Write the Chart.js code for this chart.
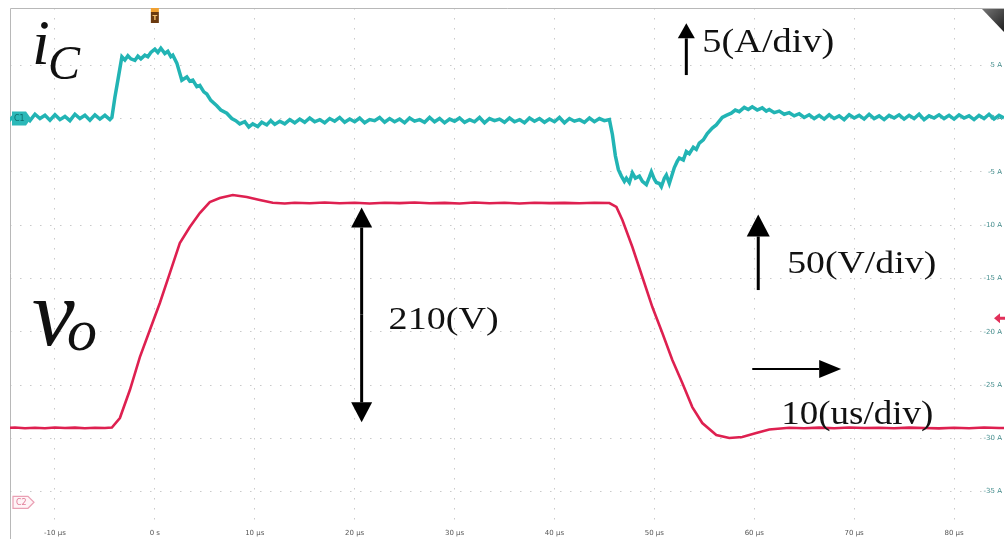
<!DOCTYPE html>
<html>
<head>
<meta charset="utf-8">
<script src="https://cdn.jsdelivr.net/npm/chart.js@4/dist/chart.umd.min.js"></script>
<style>
html,body{margin:0;padding:0;background:#fff;}
#wrap{position:relative;width:1008px;height:539px;}
</style>
</head>
<body>
<div id="wrap"><canvas id="c"></canvas></div>
<script>
// ---- data (time in µs) ----
const tC = [
  -15,-14.5,-14,-13.5,-13,-12.5,-12,-11.5,-11,-10.5,-10,-9.5,-9,-8.5,-8,-7.5,-7,-6.5,-6,-5.5,-5,-4.5,
  -4.3,-4.0,-3.7,
  -3.3,-3,-2.7,-2.4,-2,-1.7,-1.4,-1,-0.7,-0.4,0,0.3,0.6,1,1.3,1.6,1.8,2.2,2.7,3.2,3.5,3.8,4.2,4.5,4.9,5.2,5.6,6.2,6.6,7.2,7.7,8.1,8.5,9.0,9.4,9.8,10.3,10.7,11.2,11.6,12.0,12.5,13.0,13.5,14.0,
  14.5,15,15.5,16,16.5,17,17.5,18,18.5,19, 19.5,20,20.5,21,21.5,22,22.5,23,23.5,24, 24.5,25,25.5,26,26.5,27,27.5,28,28.5,29,
  29.5,30,30.5,31,31.5,32,32.5,33,33.5,34, 34.5,35,35.5,36,36.5,37,37.5,38,38.5,39, 39.5,40,40.5,41,41.5,42,42.5,43,43.5,44, 44.5,45,45.5,
  45.8,46.1,46.4,
  46.7,47.0,47.2,47.5,47.8,48.1,48.5,48.8,49.2,49.5,49.7,50.0,50.2,50.5,50.7,51.0,51.2,51.5,
  52.0,52.3,52.5,52.9,53.2,53.5,53.9,54.2,54.5,54.9,55.3,55.8,56.2,56.8,57.2,57.7,58.1,58.5,59.0,59.4,59.8,60.3,60.8,61.2,61.5,62.0,62.5,63.0,63.5,64.0,64.5,65.0,65.5,
  66,66.5,67,67.5,68,68.5,69,69.5,70,70.5, 71,71.5,72,72.5,73,73.5,74,74.5,75,75.5, 76,76.5,77,77.5,78,78.5,79,79.5,80,80.5, 81,81.5,82,82.5,83,83.5,84,84.5,85,85.5, 86
];
const iC = [
  0.3,-0.1,0.35,-0.05,0.25,-0.2,0.4,0.0,0.3,-0.15,0.35,-0.1,0.2,-0.2,0.4,0.0,0.3,-0.15,0.35,-0.05,0.3,-0.1,
  0.1,2.0,3.6,
  5.8,5.5,5.9,5.6,5.45,5.85,5.6,5.95,5.8,6.2,6.5,6.2,6.6,6.1,6.3,5.8,5.95,5.2,3.6,3.9,3.5,3.6,3.0,3.1,2.5,2.3,1.7,1.2,0.8,0.5,0.0,-0.2,-0.5,-0.3,-0.8,-0.5,-0.75,-0.35,-0.6,-0.2,-0.55,-0.25,-0.5,-0.1,-0.4,
  -0.05,-0.35,0.05,-0.3,-0.1,-0.4,0.0,-0.25,0.1,-0.35, -0.05,-0.3,0.05,-0.4,-0.1,-0.2,0.1,-0.35,0.0,-0.3, -0.05,-0.4,0.05,-0.25,-0.1,-0.35,0.1,-0.3,0.0,-0.4,
  -0.05,-0.25,0.05,-0.35,-0.1,-0.3,0.1,-0.4,0.0,-0.2, -0.05,-0.35,0.05,-0.3,-0.1,-0.4,0.05,-0.25,0.0,-0.35, -0.05,-0.3,0.1,-0.4,0.0,-0.25,-0.1,-0.35,0.05,-0.3, 0.0,-0.2,-0.1,
  -1.5,-3.5,-4.8,
  -5.4,-5.9,-5.6,-6.0,-5.1,-5.6,-5.4,-5.9,-6.2,-5.5,-5.0,-5.7,-6.0,-6.1,-6.4,-5.6,-5.3,-6.1,
  -4.6,-4.0,-3.7,-3.9,-3.1,-3.3,-2.7,-2.9,-2.3,-2.0,-1.4,-0.9,-0.6,0.1,0.3,0.5,0.8,0.65,1.05,0.85,1.1,0.8,1.0,0.7,0.85,0.55,0.7,0.4,0.55,0.25,0.45,0.1,0.35,
  0.0,0.3,-0.05,0.35,0.0,0.25,-0.1,0.35,0.05,0.3, -0.05,0.4,0.0,0.25,-0.1,0.3,0.05,0.35,-0.05,0.3, 0.0,0.4,-0.1,0.25,0.05,0.35,0.0,0.3,-0.05,0.35, 0.05,0.25,-0.1,0.3,0.0,0.4,-0.05,0.3,0.05,0.35, 0.0
];

const tV = [-15,-14,-13,-12,-11,-10,-9,-8,-7,-6,-5,-4.3,-3.5,-2.5,-1.5,-0.5,0.5,1.5,2.5,3.5,4.5,5.5,6.5,7.8,9.2,10.5,11.8,13,14,15.5,17,18.5,20,21.5,23,24.5,26,27.5,29,30.5,32,33.5,35,36.5,38,39.5,41,42.5,44,45.5,46.2,46.8,47.8,48.8,49.8,50.8,51.8,52.8,53.8,54.8,56.2,57.5,58.8,60.2,61.5,63.5,65,66.5,68,69.5,71,72.5,74,75.5,77,78.5,80,81.5,83,84.5,86];
const vO = [-105,-104.5,-105.3,-104.8,-105.2,-104.6,-105.1,-104.7,-105.3,-104.8,-105.0,-104.6,-95.7,-69.4,-38.5,-13.1,12.2,40.3,68.5,83.5,96.6,106.9,110.7,113.5,111.6,108.8,106.2,105.6,106.3,105.7,106.4,105.8,106.2,105.5,106.3,105.9,106.5,105.7,106.1,105.6,106.4,105.8,106.2,105.6,106.3,105.9,106.1,105.7,106.2,106.0,102.3,90,64.7,36.6,8.4,-15.9,-41.3,-62.9,-85.4,-100.4,-111.6,-114.4,-113.5,-109.8,-106.5,-104.8,-105.3,-104.7,-105.2,-104.6,-105.1,-104.8,-105.3,-104.7,-105.0,-105.4,-104.8,-105.2,-104.6,-105.1,-104.9];

const xTickValues = [-10,0,10,20,30,40,50,60,70,80];
const yTickValues = [5,0,-5,-10,-15,-20,-25,-30,-35];

// ---- annotations (data coordinates: t in µs, a on current axis) ----
const texts = [
  {text:'i', t:-12.3, a:5.1, font:'italic 64px "Liberation Serif"'},
  {text:'C', t:-10.7, a:3.75, font:'italic 48px "Liberation Serif"'},
  {text:'v', t:-12.3, a:-21.25, font:'italic 96px "Liberation Serif"'},
  {text:'o', t:-8.8, a:-21.7, font:'italic 60px "Liberation Serif"'},
  {text:'5(A/div)', t:54.8, a:6.24, font:'33px "Liberation Serif"', w:132},
  {text:'50(V/div)', t:63.3, a:-14.49, font:'32px "Liberation Serif"', w:149},
  {text:'210(V)', t:23.4, a:-19.75, font:'31px "Liberation Serif"', w:110},
  {text:'10(us/div)', t:62.7, a:-28.66, font:'34px "Liberation Serif"', w:152}
];
const arrows = [
  {t1:53.2, a1:4.08, t2:53.2, a2:8.93, head:15, hw:17, lw:3},
  {t1:60.4, a1:-16.09, t2:60.4, a2:-9.0, head:22, hw:23, lw:3},
  {t1:59.8, a1:-23.5, t2:68.7, a2:-23.5, head:22, hw:18, lw:2},
  {t1:20.7, a1:-18.4, t2:20.7, a2:-8.35, head:20, hw:21, lw:3},
  {t1:20.7, a1:-18.4, t2:20.7, a2:-28.5, head:20, hw:21, lw:3}
];

function arrow(ctx, x1, y1, x2, y2, head, hw, lw) {
  const ang = Math.atan2(y2 - y1, x2 - x1);
  const bx = x2 - head * Math.cos(ang), by = y2 - head * Math.sin(ang);
  ctx.save();
  ctx.strokeStyle = '#000'; ctx.fillStyle = '#000'; ctx.lineWidth = lw;
  ctx.beginPath(); ctx.moveTo(x1, y1); ctx.lineTo(bx, by); ctx.stroke();
  const px = -Math.sin(ang) * hw / 2, py = Math.cos(ang) * hw / 2;
  ctx.beginPath(); ctx.moveTo(x2, y2); ctx.lineTo(bx + px, by + py); ctx.lineTo(bx - px, by - py); ctx.closePath(); ctx.fill();
  ctx.restore();
}

const scopePlugin = {
  id: 'scope',
  beforeDatasetsDraw(chart) {
    const {ctx, chartArea: ca} = chart;
    ctx.save();
    ctx.strokeStyle = '#b8b8b8'; ctx.lineWidth = 1;
    ctx.beginPath();
    ctx.moveTo(ca.left + 0.5, chart.height); ctx.lineTo(ca.left + 0.5, ca.top + 0.5); ctx.lineTo(ca.right, ca.top + 0.5);
    ctx.stroke();
    ctx.restore();
  },
  afterDatasetsDraw(chart) {
    const {ctx, chartArea: ca} = chart;
    const xs = chart.scales.x, ys = chart.scales.y, yv = chart.scales.yV;
    // channel markers
    const y0 = ys.getPixelForValue(0);
    ctx.save();
    ctx.fillStyle = '#2bb8b8';
    ctx.beginPath();
    ctx.moveTo(ca.left + 2, y0 - 7); ctx.lineTo(ca.left + 16, y0 - 7); ctx.lineTo(ca.left + 21, y0);
    ctx.lineTo(ca.left + 16, y0 + 7); ctx.lineTo(ca.left + 2, y0 + 7); ctx.closePath(); ctx.fill();
    ctx.fillStyle = '#0d6d6d'; ctx.font = '8px "DejaVu Sans"'; ctx.textBaseline = 'middle';
    ctx.fillText('C1', ca.left + 4, y0 + 0.5);
    const yc2 = ys.getPixelForValue(-36);
    ctx.strokeStyle = '#eaa0b4'; ctx.lineWidth = 1.2; ctx.fillStyle = '#fff4f7';
    ctx.beginPath();
    ctx.moveTo(ca.left + 3, yc2 - 6); ctx.lineTo(ca.left + 18, yc2 - 6); ctx.lineTo(ca.left + 24, yc2);
    ctx.lineTo(ca.left + 18, yc2 + 6); ctx.lineTo(ca.left + 3, yc2 + 6); ctx.closePath(); ctx.fill(); ctx.stroke();
    ctx.fillStyle = '#e07a96'; ctx.fillText('C2', ca.left + 6, yc2 + 0.5);
    // trigger position marker
    const xt = xs.getPixelForValue(0);
    ctx.fillStyle = '#f0a030'; ctx.fillRect(xt - 4, ca.top, 8, 4);
    ctx.fillStyle = '#6b3a10'; ctx.fillRect(xt - 4, ca.top + 4, 8, 11);
    ctx.fillStyle = '#f3c070'; ctx.font = 'bold 7px "DejaVu Sans"'; ctx.textAlign = 'center';
    ctx.fillText('T', xt, ca.top + 10);
    // trigger level marker (red)
    const yl = yv.getPixelForValue(-2);
    ctx.fillStyle = '#e2305a';
    ctx.beginPath(); ctx.moveTo(ca.right - 10, yl); ctx.lineTo(ca.right - 4, yl - 5); ctx.lineTo(ca.right - 4, yl - 1.5);
    ctx.lineTo(ca.right + 1, yl - 1.5); ctx.lineTo(ca.right + 1, yl + 1.5); ctx.lineTo(ca.right - 4, yl + 1.5); ctx.lineTo(ca.right - 4, yl + 5); ctx.closePath(); ctx.fill();
    // corner triangle
    const g = ctx.createLinearGradient(ca.right - 22, ca.top, ca.right, ca.top + 22);
    g.addColorStop(0, '#777'); g.addColorStop(1, '#222');
    ctx.fillStyle = g;
    ctx.beginPath(); ctx.moveTo(ca.right - 22, ca.top + 1); ctx.lineTo(ca.right, ca.top + 1); ctx.lineTo(ca.right, ca.top + 24); ctx.closePath(); ctx.fill();
    ctx.restore();
    // annotation texts
    for (const tx of texts) {
      const x = xs.getPixelForValue(tx.t), y = ys.getPixelForValue(tx.a);
      ctx.save();
      ctx.font = tx.font; ctx.fillStyle = '#111'; ctx.textAlign = 'left'; ctx.textBaseline = 'alphabetic';
      ctx.translate(x, y);
      if (tx.w) { const w = ctx.measureText(tx.text).width; ctx.scale(tx.w / w, 1); }
      ctx.fillText(tx.text, 0, 0);
      ctx.restore();
    }
    for (const ar of arrows) {
      arrow(ctx, xs.getPixelForValue(ar.t1), ys.getPixelForValue(ar.a1), xs.getPixelForValue(ar.t2), ys.getPixelForValue(ar.a2), ar.head, ar.hw, ar.lw);
    }
  }
};

const gridColor = 'rgba(150,150,150,0.5)';
new Chart(document.getElementById('c'), {
  type: 'line',
  data: {
    datasets: [
      {label: 'vo', data: tV.map((t, i) => ({x: t, y: vO[i]})), yAxisID: 'yV', borderColor: '#de2050', borderWidth: 2.6, pointRadius: 0, tension: 0},
      {label: 'iC', data: tC.map((t, i) => ({x: t, y: iC[i]})), yAxisID: 'y', borderColor: '#22b4b4', borderWidth: 3.5, pointRadius: 0, tension: 0}
    ]
  },
  options: {
    responsive: true, maintainAspectRatio: false, animation: false,
    layout: {padding: {left: 10, top: 8, right: 0, bottom: 0}},
    plugins: {legend: {display: false}, tooltip: {enabled: false}},
    scales: {
      x: {
        type: 'linear', min: -14.5, max: 85,
        afterBuildTicks: ax => { ax.ticks = xTickValues.map(v => ({value: v})); },
        afterFit: ax => { ax.height = 17; ax.paddingLeft = 0; ax.paddingRight = 0; },
        ticks: {padding: 7, color: '#555', font: {size: 7, family: 'DejaVu Sans'}, callback: v => v === 0 ? '0 s' : v + ' µs', maxRotation: 0, autoSkip: false},
        grid: {color: gridColor, drawTicks: false, lineWidth: 1},
        border: {display: false, dash: [1.5, 8.5]}
      },
      y: {
        position: 'right', min: -37.85, max: 10.37,
        afterBuildTicks: ax => { ax.ticks = yTickValues.map(v => ({value: v})); },
        afterFit: ax => { ax.width = 4; ax.paddingTop = 0; ax.paddingBottom = 0; },
        ticks: {mirror: true, padding: -2, color: 'rgba(40,125,125,0.85)', font: {size: 7, family: 'DejaVu Sans'}, callback: v => v + ' A'},
        grid: {color: gridColor, drawTicks: false, lineWidth: 1},
        border: {display: false, dash: [1.5, 8.5]}
      },
      yV: {display: false, min: -193.2, max: 288.9}
    }
  },
  plugins: [scopePlugin]
});
</script>
</body>
</html>
